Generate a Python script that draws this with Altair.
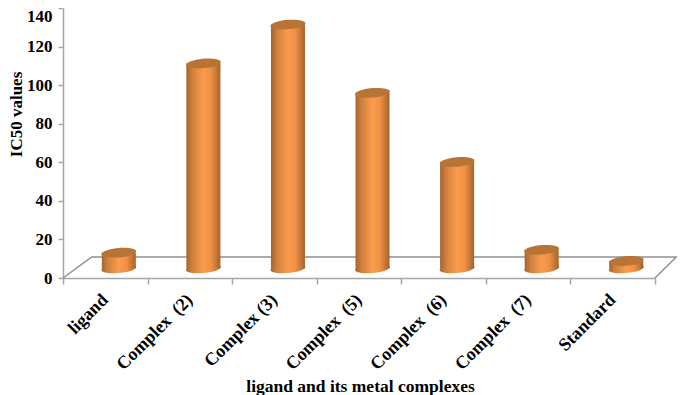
import altair as alt
import pandas as pd

categories = ["ligand", "Complex\u00a0\u00a0(2)", "Complex (3)", "Complex\u00a0\u00a0(5)", "Complex\u00a0\u00a0(6)", "Complex\u00a0\u00a0(7)", "Standard"]
values = [8.1, 106.2, 126.4, 91, 55.2, 9.6, 3.8]
positions = [0.66, 1.66, 2.66, 3.66, 4.66, 5.66, 6.66]
floor_level = 5
y_ticks = [0, 20, 40, 60, 80, 100, 120, 140]
x_ticks = [0, 1, 2, 3, 4, 5, 6, 7]
frame_u = [0, 0.34, 7.25, 7]
frame_v = [0, 10.9, 10.9, 0]

df = pd.DataFrame({"cat": categories, "val": values, "pos": positions})
df["base"] = floor_level
df["top"] = df["val"] + floor_level
frame = pd.DataFrame({"pos": frame_u, "top": frame_v, "o": range(len(frame_u))})

FONT = "Liberation Serif"
GREY = "#a6a6a6"
label_expr = "[" + ",".join("'" + c + "'" for c in categories) + ",''][datum.value]"

x_axis = alt.Axis(title="ligand and its metal complexes", values=x_ticks, grid=False,
                  labelExpr=label_expr, labelOffset=42,
                  titleFont=FONT, titleFontSize=17.5, titleFontWeight="bold", titleColor="black",
                  titleX=297, titleY=108, titleBaseline="middle", titleAnchor="middle", titleAlign="center",
                  labelFont=FONT, labelFontSize=18, labelFontWeight="bold", labelColor="black",
                  labelAngle=-45, labelAlign="right", labelBaseline="middle", labelPadding=13,
                  labelOverlap=False, labelBound=False, labelFlush=False,
                  tickSize=6, tickColor=GREY, tickWidth=1.5,
                  domainColor=GREY, domainWidth=1.5)
y_axis = alt.Axis(title="IC50 values", values=y_ticks, grid=False,
                  titleFont=FONT, titleFontSize=17, titleFontWeight="bold", titleColor="black",
                  titleX=-46.5, titleY=106, titleAnchor="middle", titleAlign="center", titleBaseline="middle",
                  labelFont=FONT, labelFontSize=17, labelFontWeight="bold", labelColor="black",
                  labelPadding=6, labelBound=False, labelFlush=False,
                  labelOffset={"condition": {"test": "datum.value === 140", "value": 8}, "value": 0},
                  tickSize=5, tickColor=GREY, tickWidth=1.5, domainColor=GREY, domainWidth=1.5)
x_scale = alt.Scale(domain=[0, 7], nice=False, zero=False, padding=0)
y_scale = alt.Scale(domain=[0, 140], nice=False)
x_enc = alt.X("pos:Q", scale=x_scale, axis=x_axis)
y_enc = alt.Y("top:Q", scale=y_scale, axis=y_axis)

body = alt.Gradient(gradient="linear", x1=0, x2=1, y1=0, y2=0, stops=[
    alt.GradientStop(offset=0, color="#a5632d"),
    alt.GradientStop(offset=0.18, color="#d0813e"),
    alt.GradientStop(offset=0.5, color="#fb9b4b"),
    alt.GradientStop(offset=0.72, color="#ef9146"),
    alt.GradientStop(offset=1, color="#a5632d"),
])
CAP = "M -1 0.12 A 1 0.27 -5 1 1 1 -0.12 A 1 0.27 -5 1 1 -1 0.12 Z"
SIZE = 34.5 ** 2

back = alt.Chart(frame).mark_line(color="#909090", strokeWidth=1.5).encode(x=x_enc, y=y_enc, order="o:O")
bars = alt.Chart(df).mark_bar(size=34, color=body).encode(x=x_enc, y=y_enc, y2="base:Q")
bottom = alt.Chart(df).mark_point(shape=CAP, size=SIZE, filled=True, opacity=1, fill=body).encode(
    x=x_enc, y=alt.Y("base:Q", scale=y_scale, axis=y_axis))
cap = alt.Chart(df).mark_point(shape=CAP, size=SIZE, filled=True, opacity=1, fill="#b87435").encode(x=x_enc, y=y_enc)

chart = alt.layer(back, bottom, bars, cap).properties(
    width=592, height=270,
    padding={"left": 55, "top": 0, "right": 22, "bottom": 118},
    autosize=alt.AutoSizeParams(type="none"),
).configure_view(stroke=None)

chart.save("out.html", embed_options={"renderer": "svg", "actions": False})
